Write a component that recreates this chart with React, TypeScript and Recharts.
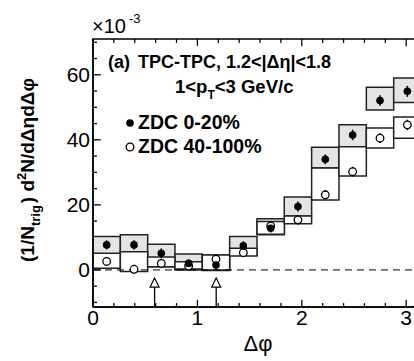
import { ComposedChart, XAxis, YAxis, Scatter, ErrorBar, ReferenceArea, ReferenceLine } from "recharts";

const FONT = "'Liberation Sans', Arial, Helvetica, sans-serif";

// Δφ bin centres, 12 bins of width π/12
const phi = [0.131, 0.393, 0.654, 0.916, 1.178, 1.44, 1.702, 1.963, 2.225, 2.487, 2.749, 3.011];
const halfBin = 0.131;

// ZDC 0-20% (filled markers, grey systematic boxes)
const central = [7.7, 7.7, 5.1, 2.0, 1.5, 7.4, 12.8, 19.5, 34.0, 41.5, 52.1, 54.9];
const centralStat = [1.4, 1.4, 1.5, 1.3, 1.5, 1.4, 1.3, 1.5, 1.5, 1.6, 1.6, 1.7];
const centralSysLo = [4.3, 4.5, 1.0, 0.0, -0.2, 4.6, 10.8, 16.6, 31.3, 37.9, 49.2, 51.5];
const centralSysHi = [10.3, 10.8, 7.9, 4.9, 4.6, 10.3, 15.7, 22.4, 37.7, 44.6, 56.2, 59.0];

// ZDC 40-100% (open markers, white systematic boxes)
const peripheral = [2.6, 0.2, 2.0, 1.2, 3.3, 5.3, 13.5, 15.4, 23.1, 30.2, 40.5, 44.6];
const peripheralStat = [1.3, 1.3, 1.4, 1.2, 1.4, 1.3, 1.2, 1.4, 1.4, 1.5, 1.5, 1.6];
const peripheralSysLo = [0.5, -0.5, 1.0, 0.3, 0.0, 4.3, 11.0, 14.2, 21.5, 28.9, 37.5, 40.5];
const peripheralSysHi = [5.1, 5.6, 4.0, 2.5, 4.6, 6.7, 14.9, 16.6, 31.3, 37.9, 43.6, 47.0];

// trigger windows marked by arrows
const arrowX = [0.59, 1.18];
const arrowTip = -2.5;
const arrowHeadBase = -5.3;

const xDomain = [0, 3.1416];
const yDomain = [-11.4, 71];
const xMajor = [0, 1, 2, 3];
const xTicks = [0, 0.2, 0.4, 0.6, 0.8, 1, 1.2, 1.4, 1.6, 1.8, 2, 2.2, 2.4, 2.6, 2.8, 3];
const yMajor = [0, 20, 40, 60];
const yTicks = [-10, -5, 0, 5, 10, 15, 20, 25, 30, 35, 40, 45, 50, 55, 60, 65, 70];

const centralRows = phi.map((x, i) => ({ x, y: central[i], err: centralStat[i] }));
const peripheralRows = phi.map((x, i) => ({ x, y: peripheral[i], err: peripheralStat[i] }));
const arrowRows = arrowX.map((x) => ({ x, y: arrowTip }));

// inward tick marks drawn as thin filled areas (ROOT-style frame ticks), sizes in axis units
const xTickLen = (v: number) => (xMajor.includes(v) ? 2.2 : 1.2);
const yTickLen = (v: number) => (yMajor.includes(v) ? 0.075 : 0.038);
const xTickHalfW = 0.006; // ≈0.6 px
const yTickHalfW = 0.2; // ≈0.65 px

const tickStyle = { fill: "#000", fontSize: 21, fontFamily: FONT };

const FilledDot = (p: any) => <circle cx={p.cx} cy={p.cy} r={3.8} fill="#000" />;
const OpenDot = (p: any) => <circle cx={p.cx} cy={p.cy} r={3.8} fill="#fff" stroke="#000" strokeWidth={1.3} />;
const ArrowHead = (p: any) => (
  <polygon
    points={`${p.cx},${p.cy} ${p.cx - 4.5},${p.cy + 9} ${p.cx + 4.5},${p.cy + 9}`}
    fill="#fff"
    stroke="#000"
    strokeWidth={1.2}
  />
);

export default function App() {
  return (
    <div style={{ position: "fixed", left: 0, top: 0, width: 414, height: 361, overflow: "hidden", background: "#fff" }}>
      <ComposedChart width={440} height={361} margin={{ top: 39, right: 19, bottom: 0, left: 0 }}>
        <XAxis
          xAxisId="x"
          type="number"
          dataKey="x"
          domain={xDomain}
          allowDataOverflow
          ticks={xMajor}
          interval={0}
          height={54}
          tickLine={false}
          tickSize={0}
          tickMargin={3}
          axisLine={{ stroke: "#000", strokeWidth: 1.5 }}
          tick={tickStyle}
        />
        <YAxis
          yAxisId="y"
          type="number"
          dataKey="y"
          domain={yDomain}
          allowDataOverflow
          ticks={yMajor}
          interval={0}
          width={93}
          tickLine={false}
          tickSize={0}
          tickMargin={3}
          axisLine={{ stroke: "#000", strokeWidth: 1.5 }}
          tick={tickStyle}
        />

        {/* whole frame outline (gives the top edge) */}
        <ReferenceArea xAxisId="x" yAxisId="y" x1={xDomain[0]} x2={xDomain[1]} y1={yDomain[0]} y2={yDomain[1]}
          fill="none" fillOpacity={0} stroke="#000" strokeWidth={1.5} ifOverflow="visible" />

        {/* inward ticks on bottom, top and left edges */}
        {xTicks.map((v) => (
          <ReferenceArea key={`tb${v}`} xAxisId="x" yAxisId="y" x1={v - xTickHalfW} x2={v + xTickHalfW}
            y1={yDomain[0]} y2={yDomain[0] + xTickLen(v)} fill="#000" fillOpacity={1} stroke="none" ifOverflow="visible" />
        ))}
        {xTicks.map((v) => (
          <ReferenceArea key={`tt${v}`} xAxisId="x" yAxisId="y" x1={v - xTickHalfW} x2={v + xTickHalfW}
            y1={yDomain[1] - xTickLen(v)} y2={yDomain[1]} fill="#000" fillOpacity={1} stroke="none" ifOverflow="visible" />
        ))}
        {yTicks.map((v) => (
          <ReferenceArea key={`tl${v}`} xAxisId="x" yAxisId="y" x1={xDomain[0]} x2={xDomain[0] + yTickLen(v)}
            y1={v - yTickHalfW} y2={v + yTickHalfW} fill="#000" fillOpacity={1} stroke="none" ifOverflow="visible" />
        ))}

        <ReferenceLine xAxisId="x" yAxisId="y" y={0} stroke="#000" strokeWidth={1} strokeDasharray="7 5" />

        {phi.map((x, i) => (
          <ReferenceArea key={`c${i}`} xAxisId="x" yAxisId="y" x1={x - halfBin} x2={x + halfBin}
            y1={centralSysLo[i]} y2={centralSysHi[i]} fill="#e4e4e4" fillOpacity={1} stroke="#222" strokeWidth={1.5} ifOverflow="visible" />
        ))}
        {phi.map((x, i) => (
          <ReferenceArea key={`p${i}`} xAxisId="x" yAxisId="y" x1={x - halfBin} x2={x + halfBin}
            y1={peripheralSysLo[i]} y2={peripheralSysHi[i]} fill="#fff" fillOpacity={1} stroke="#222" strokeWidth={1.5} ifOverflow="visible" />
        ))}

        {arrowX.map((x, i) => (
          <ReferenceLine key={`a${i}`} xAxisId="x" yAxisId="y" stroke="#000" strokeWidth={1.3}
            segment={[{ x, y: yDomain[0] }, { x, y: arrowHeadBase }]} />
        ))}
        <Scatter xAxisId="x" yAxisId="y" data={arrowRows} shape={ArrowHead} isAnimationActive={false} />

        <Scatter xAxisId="x" yAxisId="y" data={peripheralRows} shape={OpenDot} isAnimationActive={false}>
          <ErrorBar dataKey="err" direction="y" width={0} stroke="#000" strokeWidth={1.5} />
        </Scatter>
        <Scatter xAxisId="x" yAxisId="y" data={centralRows} shape={FilledDot} isAnimationActive={false}>
          <ErrorBar dataKey="err" direction="y" width={0} stroke="#000" strokeWidth={1.5} />
        </Scatter>
      </ComposedChart>

      <svg width={414} height={361} style={{ position: "absolute", left: 0, top: 0, pointerEvents: "none" }} fontFamily={FONT}>
        <text x={92} y={33} fontSize={20} fill="#000">×10</text>
        <text x={129} y={23} fontSize={13} fill="#000">-3</text>
        <text x={108} y={68} fontSize={18} fontWeight="bold" fill="#000">
          (a)<tspan dx={8}>TPC-TPC, 1.2&lt;|Δη|&lt;1.8</tspan>
        </text>
        <text x={175} y={93} fontSize={18.5} fontWeight="bold" fill="#000">
          1&lt;p<tspan fontSize={12} dy={6}>T</tspan><tspan dy={-6}>&lt;3 GeV/c</tspan>
        </text>
        <circle cx={130} cy={123} r={3.8} fill="#000" />
        <text x={138} y={129} fontSize={19.5} fontWeight="bold" fill="#000">ZDC 0-20%</text>
        <circle cx={130} cy={147} r={3.8} fill="#fff" stroke="#000" strokeWidth={1.3} />
        <text x={138} y={153} fontSize={19.5} fontWeight="bold" fill="#000">ZDC 40-100%</text>
        <text x={258} y={351} fontSize={22} textAnchor="middle" fill="#000">Δφ</text>
        <text transform="translate(34,170) rotate(-90)" fontSize={19} fontWeight="bold" textAnchor="middle" fill="#000">
          (1/N<tspan fontSize={13} dy={6}>trig</tspan><tspan dy={-6} dx={2}>) d</tspan>
          <tspan fontSize={13} dy={-8}>2</tspan><tspan dy={8}>N/dΔηdΔφ</tspan>
        </text>
      </svg>
    </div>
  );
}
